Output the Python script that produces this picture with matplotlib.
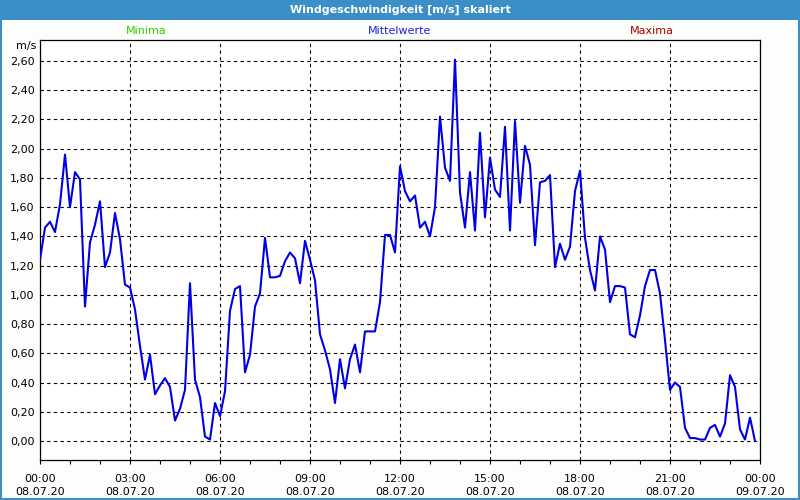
import numpy as np
import matplotlib
matplotlib.use("Agg")
import matplotlib.pyplot as plt
from matplotlib.patches import Rectangle

# Wind speed, 10 minute means from 08.07.20 00:00 to 23:50
speed = [1.24, 1.46, 1.50, 1.43, 1.62, 1.96, 1.60, 1.84, 1.79, 0.92,
         1.36, 1.48, 1.64, 1.19, 1.29, 1.56, 1.38, 1.07, 1.05, 0.90,
         0.65, 0.42, 0.59, 0.32, 0.38, 0.43, 0.37, 0.14, 0.22, 0.35,
         1.08, 0.42, 0.30, 0.03, 0.01, 0.26, 0.17, 0.34, 0.89, 1.04,
         1.06, 0.47, 0.59, 0.92, 1.01, 1.39, 1.12, 1.12, 1.13, 1.23,
         1.29, 1.25, 1.08, 1.37, 1.24, 1.10, 0.73, 0.62, 0.49, 0.26,
         0.56, 0.36, 0.56, 0.66, 0.47, 0.75, 0.75, 0.75, 0.95, 1.41,
         1.41, 1.29, 1.88, 1.71, 1.64, 1.68, 1.46, 1.50, 1.40, 1.60,
         2.22, 1.87, 1.78, 2.61, 1.70, 1.46, 1.84, 1.44, 2.11, 1.53,
         1.94, 1.72, 1.67, 2.15, 1.44, 2.19, 1.63, 2.02, 1.89, 1.34,
         1.77, 1.78, 1.82, 1.19, 1.35, 1.24, 1.33, 1.71, 1.85, 1.39,
         1.17, 1.03, 1.40, 1.31, 0.95, 1.06, 1.06, 1.05, 0.73, 0.71,
         0.86, 1.06, 1.17, 1.17, 1.01, 0.69, 0.35, 0.40, 0.37, 0.09,
         0.02, 0.02, 0.01, 0.01, 0.09, 0.11, 0.03, 0.12, 0.45, 0.37,
         0.08, 0.01, 0.16, 0.00]
minutes = np.arange(len(speed)) * 10

tick_min = [0, 180, 360, 540, 720, 900, 1080, 1260, 1440]
tick_labels = ["00:00\n08.07.20", "03:00\n08.07.20", "06:00\n08.07.20",
               "09:00\n08.07.20", "12:00\n08.07.20", "15:00\n08.07.20",
               "18:00\n08.07.20", "21:00\n08.07.20", "00:00\n09.07.20"]
y_ticks = [0.0, 0.2, 0.4, 0.6, 0.8, 1.0, 1.2, 1.4, 1.6, 1.8, 2.0, 2.2, 2.4, 2.6]

plt.rcParams['font.family'] = ['DejaVu Sans']
plt.rcParams['font.size'] = 8

fig = plt.figure(figsize=(8, 5), dpi=100, facecolor="#fcfefc")

# title bar and window border
fig.patches.append(Rectangle((0, 0.96), 1, 0.04, transform=fig.transFigure,
                             facecolor="#3c8fc6", edgecolor="none", zorder=0))
fig.patches.append(Rectangle((0.001, 0.002), 0.998, 0.997, transform=fig.transFigure,
                             facecolor="none", edgecolor="#3c8fc6", lw=1.5, zorder=5))
fig.text(0.5, 0.98, "Windgeschwindigkeit [m/s] skaliert", color="white",
         fontweight="bold", ha="center", va="center", fontsize=8)

ax = fig.add_axes([0.05, 0.08, 0.9, 0.84])
ax.set_facecolor("white")
ax.plot(minutes, speed, color="#0000e6", lw=1.5, zorder=3)

ax.set_xlim(0, 1440)
ax.set_ylim(-0.130, 2.744)
ax.set_xticks(tick_min)
ax.set_xticklabels(tick_labels, linespacing=1.45)
ax.set_xticks(np.arange(0, 1441, 60), minor=True)
ax.set_yticks(y_ticks)
ax.set_yticklabels([f"{v:.2f}".replace(".", ",") for v in y_ticks])

ax.tick_params(axis="x", which="both", direction="out", length=3, width=0.8, pad=7)
ax.tick_params(axis="y", length=0, pad=4)
ax.grid(True, color="black", ls=(0, (3, 3)), lw=0.8)
for s in ax.spines.values():
    s.set_linewidth(0.9)

fig.text(0.046, 0.908, "m/s", ha="right", va="center")
fig.text(0.183, 0.938, "Minima", color="#33cc00", ha="center", va="center")
fig.text(0.50, 0.938, "Mittelwerte", color="#2020e0", ha="center", va="center")
fig.text(0.815, 0.938, "Maxima", color="#b00000", ha="center", va="center")

fig.savefig("out.png", dpi=100, facecolor=fig.get_facecolor())
